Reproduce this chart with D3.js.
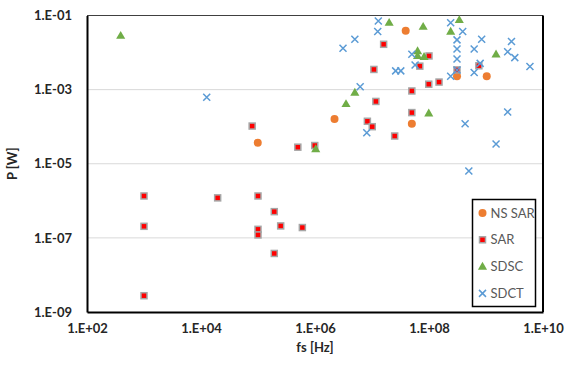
<!DOCTYPE html>
<html lang="en">
    <head>
        <meta charset="utf-8">
        <title>P vs fs scatter</title>
        <script type="text/javascript" src="https://cdn.jsdelivr.net/npm/d3@7"></script>
        <style type="text/css">
            body { margin: 0; background: #fff; }
            .axis text { font-family: Lato, "Open Sans", sans-serif; font-weight: bold; font-size: 13px; fill: #262626; }
            .legend text { font-family: Lato, "Open Sans", sans-serif; font-size: 13px; fill: #595959; }
        </style>
    </head>
    <body>
        <script type="text/javascript">
            //Data [fs (Hz), P (W)]
            var nsSar = [[9.9e4, 3.7e-5], [3.9e7, 3.9e-2], [3.1e8, 2.3e-3], [1.03e9, 2.3e-3],
                         [2.2e6, 1.6e-4], [5.0e7, 1.2e-4]];
            var sar = [[1e3, 1.35e-6], [1e3, 2.05e-7], [1e3, 2.75e-9], [1.96e4, 1.2e-6],
                       [1e5, 1.35e-6], [1e5, 1.7e-7], [1e5, 1.2e-7], [1.93e5, 5.1e-7],
                       [2.5e5, 2.1e-7], [1.93e5, 3.8e-8], [6.0e5, 1.9e-7], [7.9e4, 1.04e-4],
                       [5.0e5, 2.8e-5], [9.9e5, 3.1e-5], [8.3e6, 1.4e-4], [1.01e7, 1.0e-4],
                       [2.5e7, 5.6e-5], [1.17e7, 4.8e-4], [1.08e7, 3.5e-3], [1.6e7, 1.67e-2],
                       [5.0e7, 9.2e-4], [5.0e7, 2.4e-4], [6.9e7, 4.3e-3], [1e8, 8.1e-3],
                       [9.9e7, 1.4e-3], [1.5e8, 1.6e-3], [3.1e8, 3.4e-3], [7.5e8, 4.4e-3]];
            var sdsc = [[3.9e2, 2.85e-2], [2.0e7, 6.4e-2], [7.9e7, 5.0e-2], [3.4e8, 7.6e-2],
                        [2.4e8, 3.7e-2], [6.3e7, 1.1e-2], [6.3e7, 8.1e-3], [8.2e7, 7.7e-3],
                        [1.5e9, 9e-3], [5.0e6, 8.3e-4], [3.5e6, 4.1e-4], [9.9e7, 2.3e-4],
                        [1.03e6, 2.5e-5]];
            var sdct = [[1.29e7, 7.1e-2], [1.26e7, 3.7e-2], [5.0e6, 2.3e-2], [3.1e6, 1.3e-2],
                        [2.4e8, 6.4e-2], [3.9e8, 3.7e-2], [3.1e8, 2.2e-2], [3.1e8, 1.25e-2],
                        [3.1e8, 6.7e-3], [8.4e8, 2.3e-2], [6.2e8, 1.25e-2], [2.8e9, 2.0e-2],
                        [2.4e9, 1.05e-2], [3.2e9, 7.3e-3], [5.9e9, 4.2e-3], [5.0e7, 9e-3],
                        [5.7e7, 4.6e-3], [2.6e7, 3.2e-3], [3.2e7, 3.2e-3], [2.4e8, 2.3e-3],
                        [6.2e8, 2.9e-3], [7.9e8, 5.1e-3], [3.1e8, 3.4e-3], [6.2e6, 1.2e-3],
                        [2.4e9, 2.5e-4], [4.3e8, 1.2e-4], [1.5e9, 3.4e-5], [8.1e6, 6.9e-5],
                        [5.0e8, 6.4e-6], [1.26e4, 6.2e-4]];
            var xTicks = [1e2, 1e4, 1e6, 1e8, 1e10];
            var yTicks = [1e-9, 1e-7, 1e-5, 1e-3, 1e-1];
            var seriesNames = ["NS SAR", "SAR", "SDSC", "SDCT"];

            var w = 576;
            var h = 366;
            //plot area edges
            var pLeft = 87, pRight = 543, pTop = 15.5, pBottom = 312;

            var svg = d3.select("body")
                        .append("svg")
                        .attr("width", w)
                        .attr("height", h);

            //Log scales
            var xScale = d3.scaleLog().domain([1e2, 1e10]).range([pLeft, pRight]);
            var yScale = d3.scaleLog().domain([1e-9, 1e-1]).range([pBottom, pTop]);

            var fmt = function(d) {
                var e = Math.round(Math.log10(d));
                return "1.E" + (e < 0 ? "-" : "+") + (Math.abs(e) < 10 ? "0" : "") + Math.abs(e);
            };

            //Gridlines
            svg.append("g")
                .selectAll("line")
                .data(yTicks.slice(1, -1))
                .enter()
                .append("line")
                .attr("x1", pLeft).attr("x2", pRight)
                .attr("y1", function(d) { return yScale(d); })
                .attr("y2", function(d) { return yScale(d); })
                .attr("stroke", "#d9d9d9")
                .attr("stroke-width", 1);

            //Frame: thin top, thick right
            svg.append("line").attr("x1", pLeft).attr("x2", pRight).attr("y1", pTop).attr("y2", pTop)
                .attr("stroke", "#404040").attr("stroke-width", 1);
            svg.append("line").attr("x1", pRight).attr("x2", pRight).attr("y1", pTop).attr("y2", pBottom)
                .attr("stroke", "#000").attr("stroke-width", 2);

            //Axes
            var xAxis = d3.axisBottom(xScale).tickValues(xTicks).tickFormat(fmt).tickSize(0).tickPadding(12);
            var yAxis = d3.axisLeft(yScale).tickValues(yTicks).tickFormat(fmt).tickSize(0).tickPadding(15);

            var gx = svg.append("g")
                .attr("class", "axis")
                .attr("transform", "translate(0," + pBottom + ")")
                .call(xAxis);
            gx.select(".domain").attr("stroke", "#000").attr("stroke-width", 2);

            var gy = svg.append("g")
                .attr("class", "axis")
                .attr("transform", "translate(" + pLeft + ",0)")
                .call(yAxis);
            gy.select(".domain").attr("stroke", "#000").attr("stroke-width", 2);

            //Axis titles
            svg.append("text")
                .attr("x", xScale(1e6)).attr("y", 352)
                .attr("text-anchor", "middle")
                .style("font-family", "Lato, sans-serif").style("font-weight", "bold")
                .style("font-size", "13px").style("fill", "#262626")
                .text("fs [Hz]");
            svg.append("text")
                .attr("transform", "translate(17," + yScale(1e-5) + ") rotate(-90)")
                .attr("text-anchor", "middle")
                .style("font-family", "Lato, sans-serif").style("font-weight", "bold")
                .style("font-size", "13px").style("fill", "#262626")
                .text("P [W]");

            //Marker drawers
            var tri = d3.symbol().type(d3.symbolTriangle).size(36);
            function drawCircle(g, x, y) {
                g.append("circle").attr("cx", x).attr("cy", y).attr("r", 4).attr("fill", "#ed7d31");
            }
            function drawSquare(g, x, y) {
                g.append("rect").attr("x", x - 3).attr("y", y - 3).attr("width", 6).attr("height", 6)
                    .attr("fill", "#ff0000").attr("stroke", "#a6a6a6").attr("stroke-width", 1.5);
            }
            function drawTri(g, x, y) {
                g.append("path").attr("d", tri).attr("transform", "translate(" + x + "," + (y + 0.5) + ")")
                    .attr("fill", "#70ad47");
            }
            function drawCross(g, x, y) {
                var s = 3.5;
                g.append("path").attr("d", "M" + (x - s) + "," + (y - s) + "L" + (x + s) + "," + (y + s) +
                        "M" + (x - s) + "," + (y + s) + "L" + (x + s) + "," + (y - s))
                    .attr("stroke", "#5b9bd5").attr("stroke-width", 1.5).attr("fill", "none");
            }
            var drawers = [drawCircle, drawSquare, drawTri, drawCross];
            var allSeries = [nsSar, sar, sdsc, sdct];

            allSeries.forEach(function(data, i) {
                var g = svg.append("g");
                data.forEach(function(d) {
                    drawers[i](g, xScale(d[0]), yScale(d[1]));
                });
            });

            //Legend
            var lg = svg.append("g").attr("class", "legend");
            lg.append("rect").attr("x", 472.5).attr("y", 199.5).attr("width", 63).attr("height", 107)
                .attr("fill", "#fff").attr("stroke", "#000").attr("stroke-width", 1.5);
            seriesNames.forEach(function(name, i) {
                var y = 213 + i * 26.8;
                drawers[i](lg, 482.5, y);
                lg.append("text").attr("x", 490.5).attr("y", y + 4.5).text(name);
            });
        </script>
    </body>
</html>
